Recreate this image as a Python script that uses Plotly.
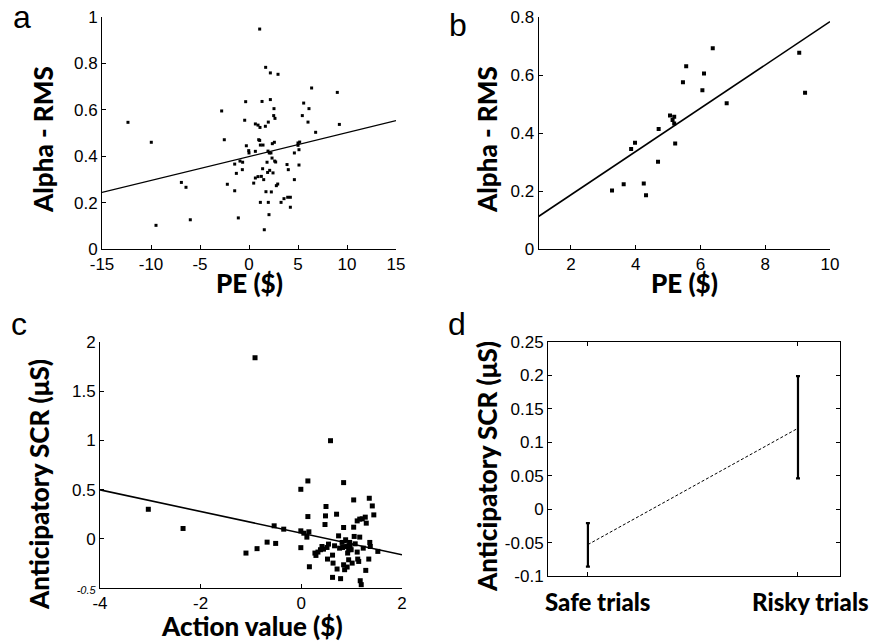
import plotly.graph_objects as go

W, H = 873, 641

# ---------------- Panel a data ----------------
a_pe = [-12.35, -9.97, -9.49, -6.9, -6.43, -5.99, -2.79, -2.52, -2.21, -1.46, -1.46, -1.29,
        -1.09, -0.92, -0.68, -0.65, -0.34, -0.44, -0.27, 0.0, -0.03, 0.48, 0.65, 0.65, 0.65,
        0.92, 0.92, 1.09, 0.99, 1.09, 1.12, 1.16, 1.16, 1.26, 1.33, 1.39, 1.43, 1.50, 1.56,
        1.67, 1.70, 1.73, 1.84, 1.90, 1.94, 1.97, 2.04, 1.97, 2.07, 2.18, 2.11, 2.18, 2.24,
        2.35, 2.28, 2.38, 2.45, 2.52, 2.55, 2.59, 2.62, 2.65, 2.72, 2.79, 2.93, 2.96, 3.27,
        3.57, 3.88, 3.95, 4.01, 4.22, 4.22, 4.63, 4.63, 5.0, 5.0, 5.1, 5.1, 5.17, 5.44, 5.58,
        6.02, 6.12, 6.39, 6.80, 9.01, 9.22]
a_rms = [0.546, 0.46, 0.102, 0.287, 0.266, 0.126, 0.595, 0.471, 0.279, 0.251, 0.366, 0.326,
         0.134, 0.379, 0.342, 0.374, 0.635, 0.555, 0.445, 0.414, 0.424, 0.284, 0.306, 0.421,
         0.539, 0.534, 0.312, 0.948, 0.471, 0.468, 0.524, 0.448, 0.201, 0.313, 0.636, 0.346,
         0.448, 0.299, 0.083, 0.529, 0.783, 0.247, 0.374, 0.330, 0.422, 0.201, 0.148, 0.547,
         0.414, 0.759, 0.339, 0.644, 0.414, 0.392, 0.246, 0.454, 0.328, 0.575, 0.605, 0.460,
         0.379, 0.563, 0.375, 0.273, 0.280, 0.753, 0.201, 0.217, 0.364, 0.223, 0.342, 0.223,
         0.180, 0.414, 0.299, 0.457, 0.447, 0.428, 0.362, 0.461, 0.575, 0.629, 0.547, 0.605,
         0.694, 0.503, 0.675, 0.537]
a_fit_x = [-15, 15]
a_fit_y = [0.244, 0.553]
a_xticks = [-15, -10, -5, 0, 5, 10, 15]
a_xtick_text = ["-15", "-10", "-5", "0", "5", "10", "15"]
a_yticks = [0, 0.2, 0.4, 0.6, 0.8, 1]
a_ytick_text = ["0", "0.2", "0.4", "0.6", "0.8", "1"]

# ---------------- Panel b data ----------------
b_pe = [3.27, 3.63, 3.86, 3.98, 4.25, 4.32, 4.69, 4.71, 5.06, 5.19, 5.14, 5.19, 5.22,
        5.46, 5.56, 6.06, 6.11, 6.38, 6.81, 9.05, 9.23]
b_rms = [0.202, 0.223, 0.345, 0.366, 0.226, 0.185, 0.301, 0.414, 0.460, 0.456, 0.445, 0.433,
         0.364, 0.575, 0.630, 0.547, 0.605, 0.692, 0.503, 0.677, 0.539]
b_fit_x = [1, 10]
b_fit_y = [0.112, 0.784]
b_xticks = [2, 4, 6, 8, 10]
b_yticks = [0, 0.2, 0.4, 0.6, 0.8]
b_ytick_text = ["0", "0.2", "0.4", "0.6", "0.8"]

# ---------------- Panel c data ----------------
c_av = [-3.04, -2.35, -1.10, -0.88, -0.92, -0.68, -0.51, -0.54, -0.35, -0.01, -0.01, -0.01,
        0.05, 0.11, 0.13, 0.13, 0.15, 0.16, 0.27, 0.29, 0.33, 0.38, 0.41, 0.44, 0.47, 0.48,
        0.49, 0.51, 0.52, 0.54, 0.58, 0.62, 0.63, 0.62, 0.66, 0.70, 0.71, 0.74, 0.76, 0.78,
        0.81, 0.82, 0.84, 0.84, 0.84, 0.86, 0.88, 0.90, 0.91, 0.92, 0.94, 0.94, 0.96, 0.97,
        0.99, 1.01, 1.04, 1.04, 1.05, 1.07, 1.11, 1.11, 1.12, 1.14, 1.16, 1.16, 1.17, 1.19,
        1.21, 1.23, 1.27, 1.28, 1.29, 1.34, 1.35, 1.36, 1.37, 1.41, 1.44, 1.52]
c_scr = [0.30, 0.105, -0.145, -0.10, 1.84, -0.034, -0.047, 0.132, 0.098, 0.503, -0.09, 0.081,
         0.057, 0.017, 0.588, 0.226, 0.071, -0.284, -0.145, -0.169, -0.135, -0.111, -0.078,
         -0.105, 0.145, 0.233, 0.328, -0.088, -0.206, -0.054, 0.997, -0.166, -0.247, -0.392,
         -0.071, 0.25, -0.307, 0.030, -0.095, -0.405, -0.037, -0.088, 0.115, 0.571, -0.264,
         -0.314, -0.01, -0.078, -0.287, -0.145, -0.111, -0.213, -0.037, -0.068, -0.111, -0.247,
         0.395, 0.118, 0.024, -0.051, 0.182, -0.135, -0.206, -0.23, 0.20, 0.017, -0.426,
         -0.466, 0.203, -0.095, 0.22, -0.321, 0.159, -0.206, 0.412, -0.037, -0.078, 0.334,
         0.243, -0.128]
c_fit_x = [-4, 2]
c_fit_y = [0.497, -0.162]
c_xticks = [-4, -2, 0, 2]
c_xtick_text = ["-4", "-2", "0", "2"]
c_yticks = [-0.5, 0, 0.5, 1, 1.5, 2]
c_ytick_text = ["<i><span style='font-size:11px'>-0.5</span></i>", "0", "0.5", "1", "1.5", "2"]

# ---------------- Panel d data ----------------
d_cats = ["Safe trials", "Risky trials"]
d_pos = [1, 2]
d_mean = [-0.053, 0.121]
d_upper = [-0.021, 0.199]
d_lower = [-0.086, 0.046]
d_yticks = [-0.1, -0.05, 0, 0.05, 0.1, 0.15, 0.2, 0.25]
d_ytick_text = ["-0.1", "-0.05", "0", "0.05", "0.1", "0.15", "0.2", "0.25"]

# ---------------- helpers ----------------
def px(x):
    return x / W

def py(y):
    return 1 - y / H

TICK_FONT = dict(family="Liberation Sans, Arial, sans-serif", size=17, color="black")
BOLD_FAMILY = "Lato"

fig = go.Figure()

# panel a
fig.add_trace(go.Scatter(x=a_pe, y=a_rms, mode="markers", xaxis="x", yaxis="y",
                         marker=dict(symbol="square", size=3, color="black")))
fig.add_trace(go.Scatter(x=a_fit_x, y=a_fit_y, mode="lines", xaxis="x", yaxis="y",
                         line=dict(color="black", width=1.3)))
# panel b
fig.add_trace(go.Scatter(x=b_pe, y=b_rms, mode="markers", xaxis="x2", yaxis="y2",
                         marker=dict(symbol="square", size=4, color="black")))
fig.add_trace(go.Scatter(x=b_fit_x, y=b_fit_y, mode="lines", xaxis="x2", yaxis="y2",
                         line=dict(color="black", width=1.6)))
# panel c
fig.add_trace(go.Scatter(x=c_av, y=c_scr, mode="markers", xaxis="x3", yaxis="y3",
                         marker=dict(symbol="square", size=5, color="black")))
fig.add_trace(go.Scatter(x=c_fit_x, y=c_fit_y, mode="lines", xaxis="x3", yaxis="y3",
                         line=dict(color="black", width=1.6)))
# panel d
err_plus = [u - m for u, m in zip(d_upper, d_mean)]
err_minus = [m - l for m, l in zip(d_mean, d_lower)]
fig.add_trace(go.Scatter(x=d_pos, y=d_mean, mode="lines", xaxis="x4", yaxis="y4",
                         line=dict(color="black", width=1, dash="3px,2px"),
                         error_y=dict(type="data", symmetric=False, array=err_plus,
                                      arrayminus=err_minus, color="black",
                                      thickness=2.2, width=2)))

axis_common = dict(showline=True, linecolor="black", linewidth=1, ticks="inside",
                   ticklen=4, tickcolor="black", tickwidth=1, showgrid=False,
                   zeroline=False, tickfont=TICK_FONT, automargin=False)

layout = dict(
    template="none",
    width=W, height=H, margin=dict(l=0, r=0, t=0, b=0, pad=0),
    paper_bgcolor="white", plot_bgcolor="white", showlegend=False,
    xaxis=dict(domain=[px(102), px(396)], range=[-15, 15], tickvals=a_xticks,
               ticktext=a_xtick_text, anchor="y", **axis_common),
    yaxis=dict(domain=[py(249), py(17)], range=[0, 1], tickvals=a_yticks,
               ticktext=a_ytick_text, anchor="x", **axis_common),
    xaxis2=dict(domain=[px(538.5), px(830)], range=[1, 10], tickvals=b_xticks,
                anchor="y2", **axis_common),
    yaxis2=dict(domain=[py(249), py(17)], range=[0, 0.8], tickvals=b_yticks,
                ticktext=b_ytick_text, anchor="x2", **axis_common),
    xaxis3=dict(domain=[px(100), px(402)], range=[-4, 2], tickvals=c_xticks,
                ticktext=c_xtick_text, anchor="y3", **axis_common),
    yaxis3=dict(domain=[py(588), py(342)], range=[-0.5, 2], tickvals=c_yticks,
                ticktext=c_ytick_text, anchor="x3", **axis_common),
    xaxis4=dict(domain=[px(548), px(840)], range=[0.81, 2.2], tickvals=d_pos,
                showticklabels=False, anchor="y4", mirror="ticks", **axis_common),
    yaxis4=dict(domain=[py(576), py(342)], range=[-0.1, 0.25], tickvals=d_yticks,
                ticktext=d_ytick_text, anchor="x4", mirror="ticks", **axis_common),
)
fig.update_layout(**layout)

ann = []
def add_text(text, x, y, size, bold=False, angle=0):
    ann.append(dict(text=text, x=px(x), y=py(y), xref="paper", yref="paper",
                    xanchor="center", yanchor="middle", showarrow=False, textangle=angle,
                    font=dict(family=BOLD_FAMILY if bold else "Liberation Sans, Arial",
                              size=size, color="black", weight=900 if bold else 400)))

# panel letters
add_text("a", 22, 17, 32)
add_text("b", 458, 25, 32)
add_text("c", 19, 324, 32)
add_text("d", 457, 324, 32)

# axis titles
add_text("Alpha - RMS", 43, 140, 26, bold=True, angle=-90)
add_text("PE ($)", 250, 283, 26, bold=True)
add_text("Alpha - RMS", 487, 140, 26, bold=True, angle=-90)
add_text("PE ($)", 684, 283, 26, bold=True)
add_text("Anticipatory SCR (\u03bcS)", 39, 485, 26, bold=True, angle=-90)
add_text("Action value ($)", 252, 626, 26, bold=True)
add_text("Anticipatory SCR (\u03bcS)", 487, 467, 26, bold=True, angle=-90)
for cat, pos in zip(d_cats, d_pos):
    cx = 548 + (pos - 0.81) / (2.2 - 0.81) * (840 - 548)
    add_text(cat, cx + (10 if pos == 1 else 13), 601, 24, bold=True)

fig.update_layout(annotations=ann)
fig.write_html("out.html", config={"displayModeBar": False},
               post_script="document.body.style.margin='0';")
